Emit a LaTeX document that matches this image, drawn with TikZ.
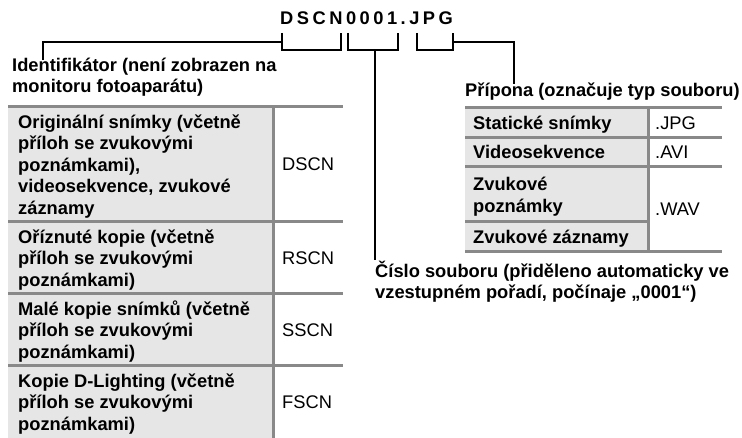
\documentclass[tikz,border=0pt]{standalone}
\usepackage{fontspec}
\setmainfont{Liberation Sans}
\newcommand\bodyfont{\fontsize{18.3}{21.5}\selectfont}
\newcommand\labelfont{\fontsize{18.3}{21}\selectfont}
\newcommand\lsk{\kern3.5pt}
\definecolor{cellgray}{HTML}{E6E6E6}
\definecolor{rulegray}{HTML}{898989}
\begin{document}
\begin{tikzpicture}[x=1pt,y=-1pt,
  % multi-line nodes are placed by the baseline of their last line
  lbl/.style={anchor=base west, inner sep=0pt, font=\labelfont\bfseries, align=left},
  cell/.style={anchor=base west, inner sep=0pt, font=\bodyfont\bfseries, align=left},
  code/.style={anchor=base west, inner sep=0pt, font=\bodyfont},
  leader/.style={draw=black, line width=1.8pt},
  rule/.style={draw=rulegray, line width=3pt},
  shade/.style={fill=cellgray}]
\useasboundingbox (0,0) rectangle (742,438);

% file name
\node[anchor=base west, inner sep=0pt, font=\bodyfont\bfseries] (fname) at (280,25)
  {D\lsk S\lsk C\lsk N\lsk 0\lsk 0\lsk 0\lsk 1\lsk .\lsk J\lsk P\lsk G};

% brackets under the parts of the name
\coordinate (b1l) at (282,33); \coordinate (b1r) at (341,33);
\coordinate (b2l) at (348,33); \coordinate (b2r) at (398,33);
\coordinate (b3l) at (417,33); \coordinate (b3r) at (453,33);
\foreach \l/\r in {b1l/b1r, b2l/b2r, b3l/b3r}
  \draw[leader, line join=miter] (\l) -- ++(0,17) -| (\r);

% labels
\node[lbl] (ident) at (12,93) {Identifikátor (není zobrazen na\\monitoru fotoaparátu)};
\node[lbl] (ext) at (465,97) {Přípona (označuje typ souboru)};
\node[lbl] (num) at (375,299) {Číslo souboru (přiděleno automaticky ve\\vzestupném pořadí, počínaje „0001“)};

% leaders to the labels
\coordinate (idtop) at (43,60);
\coordinate (exttop) at (514,84);
\coordinate (numtop) at (375,260);
\draw[leader] (282,42) -| (idtop);
\draw[leader] (453,42) -| (exttop);
\draw[leader] (375,50) -- (numtop);

% prefix table
\fill[shade] (8,107) rectangle (273,438);
\draw[rule] (273,107) -- (273,438);
\foreach \y in {107,222,294,366}
  \draw[rule] (8,\y) -- (343,\y);
\node[cell] (p1) at (18,214.5) {Originální snímky (včetně\\příloh se zvukovými\\poznámkami),\\videosekvence, zvukové\\záznamy};
\node[code] (c1) at (282,171) {DSCN};
\node[cell] (p2) at (18,286.5) {Oříznuté kopie (včetně\\příloh se zvukovými\\poznámkami)};
\node[code] (c2) at (282,265) {RSCN};
\node[cell] (p3) at (18,358.5) {Malé kopie snímků (včetně\\příloh se zvukovými\\poznámkami)};
\node[code] (c3) at (282,337) {SSCN};
\node[cell] (p4) at (18,430.5) {Kopie D-Lighting (včetně\\příloh se zvukovými\\poznámkami)};
\node[code] (c4) at (282,409) {FSCN};

% extension table
\fill[shade] (465,108) rectangle (648,252);
\draw[rule] (648,108) -- (648,252);
\foreach \y in {108,137.5,167,252}
  \draw[rule] (465,\y) -- (722,\y);
\draw[rule] (465,222) -- (648,222);
\node[cell] (e1) at (473,129.5) {Statické snímky};
\node[code] (x1) at (655,129.5) {.JPG};
\node[cell] (e2) at (473,159) {Videosekvence};
\node[code] (x2) at (655,159) {.AVI};
\node[cell] (e3) at (473,212.5) {Zvukové\\poznámky};
\node[cell] (e4) at (473,243.5) {Zvukové záznamy};
\node[code] (x3) at (655,215.5) {.WAV};
\end{tikzpicture}
\end{document}
